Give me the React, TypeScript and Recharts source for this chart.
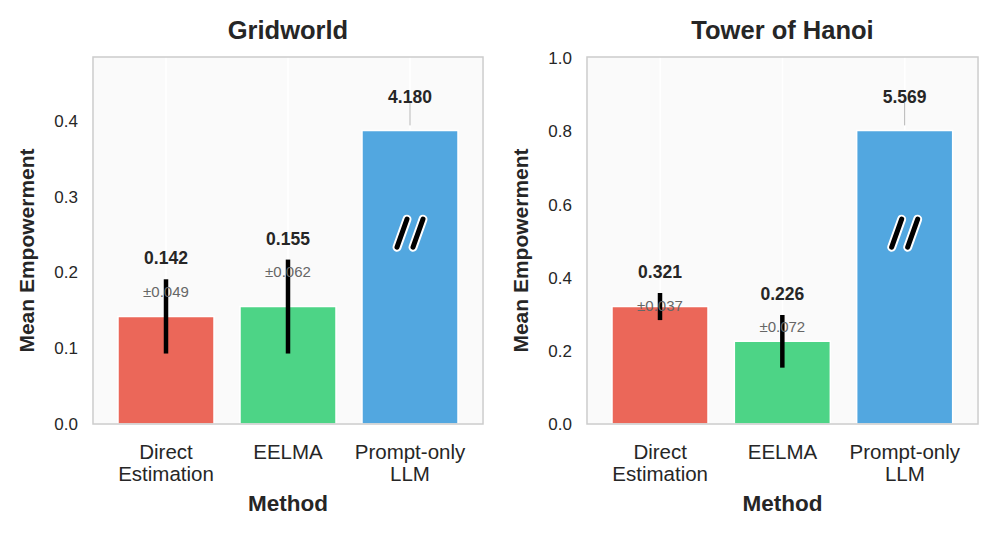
import { BarChart, Bar, XAxis, YAxis, CartesianGrid, ErrorBar, LabelList, Cell } from "recharts";

const methods = ["Direct Estimation", "EELMA", "Prompt-only LLM"];
const methodLines = [["Direct", "Estimation"], ["EELMA"], ["Prompt-only", "LLM"]];
const colors = ["#e74c3c", "#2ecc71", "#3498db"];

const gridworldMeans = [0.142, 0.155, 4.18];
const gridworldStds = [0.049, 0.062, 0];
const gridworldTicks = [0, 0.1, 0.2, 0.3, 0.4];

const hanoiMeans = [0.321, 0.226, 5.569];
const hanoiStds = [0.037, 0.072, 0];
const hanoiTicks = [0, 0.2, 0.4, 0.6, 0.8, 1.0];

// the outlier bar is cut and drawn at 2.5x the tallest regular bar
const BREAK_FACTOR = 2.5;
const brokenIndex = 2;

const FONT = "'Liberation Sans', Arial, sans-serif";
const TEXT = "#262626";
const TOP = 57;
const BOTTOM = 424;
const H = 534;

type PanelProps = {
    title: string;
    means: number[];
    stds: number[];
    ticks: number[];
    left: number;
    width: number;
    yAxisWidth: number;
    marginRight: number;
};

function MethodTick(props: any) {
    const { x, y, payload, index } = props;
    const lines = methodLines[index] ?? [payload.value];
    return (
        <text x={x} y={y} textAnchor="middle" fill={TEXT} fontSize={20.5} fontFamily={FONT}>
            {lines.map((l: string, k: number) => (
                <tspan key={k} x={x} dy={k === 0 ? 33 : 21.5}>
                    {l}
                </tspan>
            ))}
        </text>
    );
}

function Panel({ title, means, stds, ticks, left, width, yAxisWidth, marginRight }: PanelProps) {
    const regular = means.filter((_, i) => i !== brokenIndex);
    const cap = BREAK_FACTOR * Math.max(...regular);
    const data = methods.map((m, i) => ({
        method: m,
        i,
        shown: i === brokenIndex ? cap : means[i],
        err: stds[i],
    }));
    const yMax = cap * 1.25;

    const renderLabel = (props: any) => {
        const { x, y, width: w, height: h, value } = props;
        const i = Number(value);
        const cx = Number(x) + Number(w) / 2;
        const top = Number(y);
        const ppu = Number(h) / data[i].shown;
        if (i === brokenIndex) {
            const cy = top + Number(h) * 0.35;
            return (
                <g>
                    <line x1={cx} x2={cx} y1={top - 5} y2={top - 28} stroke="#b5b5b5" strokeWidth={1} />
                    <text x={cx} y={top - 33} textAnchor="middle" dominantBaseline="central" fontWeight="bold" fontSize={17.5} fill={TEXT} fontFamily={FONT}>
                        {means[i].toFixed(3)}
                    </text>
                    {[-8, 8].map((dx) => (
                        <g key={dx}>
                            <line x1={cx + dx + 5} y1={cy - 14} x2={cx + dx - 5} y2={cy + 14} stroke="#fff" strokeWidth={9} strokeLinecap="round" />
                            <line x1={cx + dx + 5} y1={cy - 14} x2={cx + dx - 5} y2={cy + 14} stroke="#000" strokeWidth={5} strokeLinecap="round" />
                        </g>
                    ))}
                </g>
            );
        }
        const errTop = top - stds[i] * ppu;
        return (
            <g>
                <text x={cx} y={errTop - 21} textAnchor="middle" dominantBaseline="central" fontWeight="bold" fontSize={17.5} fill={TEXT} fontFamily={FONT}>
                    {means[i].toFixed(3)}
                </text>
                <text x={cx} y={errTop + 12} textAnchor="middle" dominantBaseline="central" fontSize={15} fill="#666" fontFamily={FONT}>
                    ±{stds[i].toFixed(3)}
                </text>
            </g>
        );
    };

    const plotLeft = yAxisWidth;
    const plotRight = width - marginRight;
    const midX = (plotLeft + plotRight) / 2;
    const midY = (TOP + BOTTOM) / 2;
    const labelX = plotLeft - 67;

    return (
        <div style={{ position: "absolute", left, top: 0, width, height: H }}>
            <BarChart width={width} height={H} data={data} margin={{ top: TOP, right: marginRight, bottom: 0, left: 0 }}>
                <CartesianGrid horizontal={false} stroke="#ffffff" strokeWidth={1.5} fill="#fafafa" fillOpacity={1} />
                <XAxis
                    dataKey="method"
                    height={H - BOTTOM}
                    padding={{ left: 12, right: 12 }}
                    tickLine={false}
                    axisLine={false}
                    tickSize={0}
                    interval={0}
                    tick={<MethodTick />}
                />
                <YAxis
                    width={yAxisWidth}
                    domain={[0, yMax]}
                    ticks={ticks}
                    allowDataOverflow
                    tickLine={false}
                    axisLine={false}
                    tickSize={0}
                    tickMargin={15}
                    tickFormatter={(v: number) => v.toFixed(1)}
                    tick={{ fill: TEXT, fontSize: 17, fontFamily: FONT }}
                />
                <Bar dataKey="shown" barSize={96} stroke="#ffffff" strokeWidth={1.5} isAnimationActive={false}>
                    {data.map((d) => (
                        <Cell key={d.i} fill={colors[d.i]} fillOpacity={0.85} />
                    ))}
                    <LabelList dataKey="i" content={renderLabel} />
                    <ErrorBar dataKey="err" width={0} stroke="#000000" strokeWidth={4.5} direction="y" isAnimationActive={false} />
                </Bar>
            </BarChart>
            <svg width={width} height={H} style={{ position: "absolute", left: 0, top: 0, pointerEvents: "none" }}>
                <rect x={plotLeft} y={TOP} width={plotRight - plotLeft} height={BOTTOM - TOP} fill="none" stroke="#cccccc" strokeWidth={1.5} />
                <text x={midX} y={30} textAnchor="middle" dominantBaseline="central" fontWeight="bold" fontSize={25.5} fill={TEXT} fontFamily={FONT}>
                    {title}
                </text>
                <text x={midX} y={503} textAnchor="middle" dominantBaseline="central" fontWeight="bold" fontSize={22.5} fill={TEXT} fontFamily={FONT}>
                    Method
                </text>
                <text
                    x={labelX}
                    y={midY + 10}
                    transform={`rotate(-90 ${labelX} ${midY + 10})`}
                    textAnchor="middle"
                    dominantBaseline="central"
                    fontWeight="bold"
                    fontSize={21}
                    fill={TEXT}
                    fontFamily={FONT}
                >
                    Mean Empowerment
                </text>
            </svg>
        </div>
    );
}

export default function App() {
    return (
        <div style={{ position: "absolute", left: 0, top: 0, width: 996, height: H, background: "#fff" }}>
            <Panel title="Gridworld" means={gridworldMeans} stds={gridworldStds} ticks={gridworldTicks} left={0} width={490} yAxisWidth={93} marginRight={7} />
            <Panel title="Tower of Hanoi" means={hanoiMeans} stds={hanoiStds} ticks={hanoiTicks} left={490} width={506} yAxisWidth={97} marginRight={18} />
        </div>
    );
}
